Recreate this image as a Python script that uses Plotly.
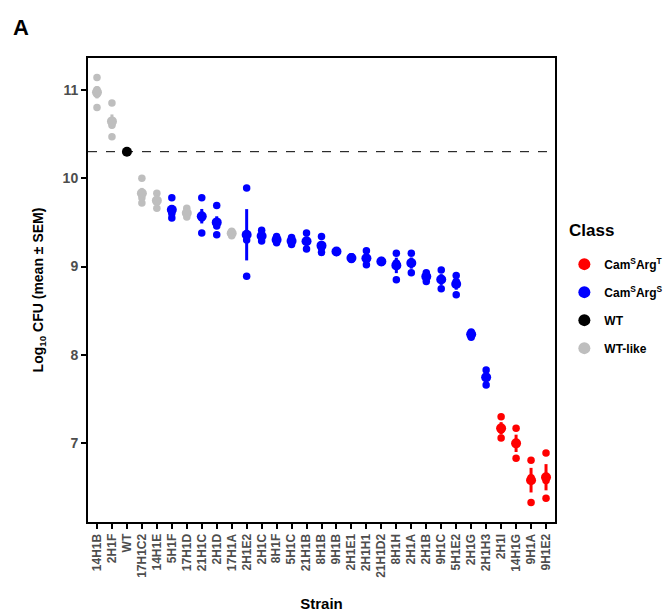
import numpy as np
import plotly.graph_objects as go

strains = ["14H1B", "2H1F", "WT", "17H1C2", "14H1E", "5H1F", "17H1D", "21H1C", "2H1D", "17H1A",
           "2H1E2", "2H1C", "8H1F", "5H1C", "21H1B", "8H1B", "9H1B", "2H1E1", "2H1H1", "21H1D2",
           "8H1H", "2H1A", "2H1B", "9H1C", "5H1E2", "2H1G", "2H1H3", "2H1I", "14H1G", "9H1A", "9H1E2"]

classes = ["WT-like", "WT-like", "WT", "WT-like", "WT-like", "CamSArgS", "WT-like", "CamSArgS", "CamSArgS", "WT-like",
           "CamSArgS", "CamSArgS", "CamSArgS", "CamSArgS", "CamSArgS", "CamSArgS", "CamSArgS", "CamSArgS", "CamSArgS", "CamSArgS",
           "CamSArgS", "CamSArgS", "CamSArgS", "CamSArgS", "CamSArgS", "CamSArgS", "CamSArgS", "CamSArgT", "CamSArgT", "CamSArgT", "CamSArgT"]

# replicate log10 CFU values
replicates = [
    [11.14, 11.00, 10.95, 10.80],
    [10.85, 10.65, 10.60, 10.47],
    [10.30],
    [10.00, 9.82, 9.78, 9.72],
    [9.83, 9.75, 9.66],
    [9.78, 9.64, 9.60, 9.55],
    [9.66, 9.60, 9.56],
    [9.78, 9.57, 9.55, 9.38],
    [9.69, 9.49, 9.46, 9.36],
    [9.40, 9.38, 9.35],
    [9.89, 9.30, 8.89],
    [9.41, 9.34, 9.29],
    [9.34, 9.30, 9.27],
    [9.33, 9.29, 9.25],
    [9.38, 9.28, 9.20],
    [9.34, 9.21, 9.16],
    [9.18, 9.17, 9.16],
    [9.11, 9.10, 9.08],
    [9.18, 9.08, 9.02],
    [9.07, 9.05, 9.05],
    [9.15, 9.04, 8.85],
    [9.15, 9.04, 8.93],
    [8.93, 8.90, 8.83],
    [8.96, 8.85, 8.75],
    [8.90, 8.83, 8.68],
    [8.26, 8.24, 8.20],
    [7.83, 7.75, 7.66],
    [7.30, 7.15, 7.06],
    [7.17, 7.00, 6.83],
    [6.81, 6.61, 6.33],
    [6.89, 6.58, 6.38],
]

wt_line = 10.30
y_ticks = [7, 8, 9, 10, 11]

class_order = ["CamSArgT", "CamSArgS", "WT", "WT-like"]
class_labels = {"CamSArgT": "<b>Cam<sup>S</sup>Arg<sup>T</sup></b>",
                "CamSArgS": "<b>Cam<sup>S</sup>Arg<sup>S</sup></b>",
                "WT": "<b>WT</b>", "WT-like": "<b>WT-like</b>"}
class_colors = {"CamSArgT": "#FF0000", "CamSArgS": "#0000FF", "WT": "#000000", "WT-like": "#BEBEBE"}

means = [float(np.mean(r)) for r in replicates]
sems = [float(np.std(r, ddof=1) / np.sqrt(len(r))) if len(r) > 1 else 0.0 for r in replicates]

fig = go.Figure()

for c in class_order:
    idx = [i for i, k in enumerate(classes) if k == c]
    rx, ry = [], []
    for i in idx:
        for v in replicates[i]:
            rx.append(strains[i])
            ry.append(v)
    fig.add_trace(go.Scatter(x=rx, y=ry, mode="markers", showlegend=False,
                             marker=dict(color=class_colors[c], size=7.5, line=dict(width=0)),
                             hoverinfo="skip", legendgroup=c))
    fig.add_trace(go.Scatter(x=[strains[i] for i in idx], y=[means[i] for i in idx],
                             mode="markers", name=class_labels[c], legendgroup=c,
                             marker=dict(color=class_colors[c], size=10, line=dict(width=0)),
                             error_y=dict(type="data", array=[sems[i] for i in idx], visible=True,
                                          color=class_colors[c], thickness=3, width=0)))

fig.add_shape(type="line", xref="paper", yref="y", x0=0, x1=1, y0=wt_line, y1=wt_line,
              line=dict(color="black", width=1, dash="dash"))

font_family = "Liberation Sans, Arial, sans-serif"
x_ticktext = ["<b>%s</b>" % s for s in strains]

fig.update_layout(
    width=669, height=616,
    margin=dict(l=88, r=114, t=58, b=94, autoexpand=False),
    plot_bgcolor="white", paper_bgcolor="white",
    font=dict(family=font_family, color="black"),
    xaxis=dict(type="category", categoryorder="array", categoryarray=strains,
               tickvals=strains, ticktext=x_ticktext,
               range=[-0.6, len(strains) - 0.4], tickangle=-90,
               tickfont=dict(size=12, color="#4D4D4D"),
               ticks="outside", ticklen=5, tickwidth=2, tickcolor="black",
               showline=True, linecolor="black", linewidth=2, mirror=True,
               showgrid=False, zeroline=False,
               title=dict(text="<b>Strain</b>", font=dict(size=15, color="black"), standoff=22)),
    yaxis=dict(range=[6.11, 11.36], tickvals=y_ticks, ticktext=["<b>%d</b>" % t for t in y_ticks],
               tickfont=dict(size=14, color="#4D4D4D"),
               ticks="outside", ticklen=5, tickwidth=2, tickcolor="black",
               showline=True, linecolor="black", linewidth=2, mirror=True,
               showgrid=False, zeroline=False,
               title=dict(text="<b>Log<sub>10</sub> CFU (mean ± SEM)</b>", font=dict(size=14, color="black"), standoff=16)),
    legend=dict(x=1.02, y=0.587, xanchor="left", yanchor="top",
                font=dict(size=12), itemsizing="constant", traceorder="grouped", tracegroupgap=9,
                bgcolor="rgba(0,0,0,0)"),
    annotations=[dict(text="<b>A</b>", xref="paper", yref="paper", x=-0.165, y=1.065,
                      xanchor="left", yanchor="middle", showarrow=False,
                      font=dict(size=22, color="black")),
                 dict(text="<b>Class</b>", xref="paper", yref="paper", x=1.026, y=0.629,
                      xanchor="left", yanchor="middle", showarrow=False,
                      font=dict(size=17, color="black"))],
)

fig.write_html("out.html")
